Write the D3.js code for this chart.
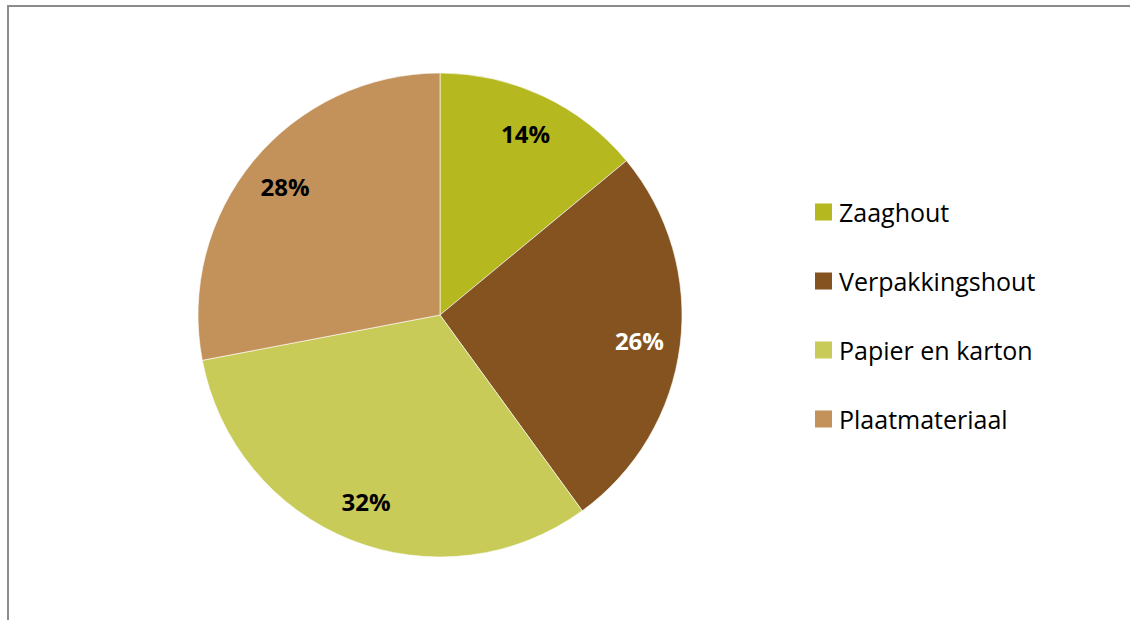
<!DOCTYPE html>
<html><head><meta charset="utf-8">
<script src="https://cdn.jsdelivr.net/npm/d3@7"></script>
<style>html,body{margin:0;padding:0;background:#fff;}svg{display:block;}</style>
</head><body>
<svg id="c" width="1130" height="620"></svg>
<script>
const categories = ["Zaaghout", "Verpakkingshout", "Papier en karton", "Plaatmateriaal"];
const values = [14, 26, 32, 28];
const colors = ["#b5b81f", "#84531f", "#c8cb57", "#c3925b"];
const labelColors = ["#000", "#fff", "#000", "#000"];

const svg = d3.select("#c");
const font = "'Open Sans', sans-serif";

// frame
svg.append("path").attr("d", "M8,620 V6 H1130").attr("fill", "none")
  .attr("stroke", "#8c8c8c").attr("stroke-width", 2);

const cx = 440, cy = 315, r = 242;
const pie = d3.pie().value(d => d).sort(null);
const arcs = pie(values);
const arc = d3.arc().innerRadius(0).outerRadius(r);
const labelArc = d3.arc().innerRadius(201).outerRadius(201);

const g = svg.append("g").attr("transform", `translate(${cx},${cy})`);
g.selectAll("path.slice").data(arcs).join("path")
  .attr("class", "slice")
  .attr("d", arc)
  .attr("fill", (d, i) => colors[i])
  .attr("stroke", "#fff").attr("stroke-width", 0.6);

g.selectAll("text.lbl").data(arcs).join("text")
  .attr("class", "lbl")
  .attr("transform", d => `translate(${labelArc.centroid(d)})`)
  .attr("text-anchor", "middle").attr("dominant-baseline", "central")
  .attr("font-family", font).attr("font-weight", "bold").attr("font-size", 24)
  .attr("fill", (d, i) => labelColors[i])
  .text(d => d.data + "%");

// legend
const ly = d3.scalePoint().domain(categories).range([212, 419]);
const leg = svg.append("g");
leg.selectAll("rect").data(categories).join("rect")
  .attr("x", 815).attr("y", d => ly(d) - 8.5).attr("width", 17).attr("height", 17)
  .attr("fill", (d, i) => colors[i]);
leg.selectAll("text").data(categories).join("text")
  .attr("x", 839).attr("y", d => ly(d)).attr("dominant-baseline", "central")
  .attr("font-family", font).attr("font-size", 25).attr("fill", "#000")
  .text(d => d);
</script>
</body></html>
